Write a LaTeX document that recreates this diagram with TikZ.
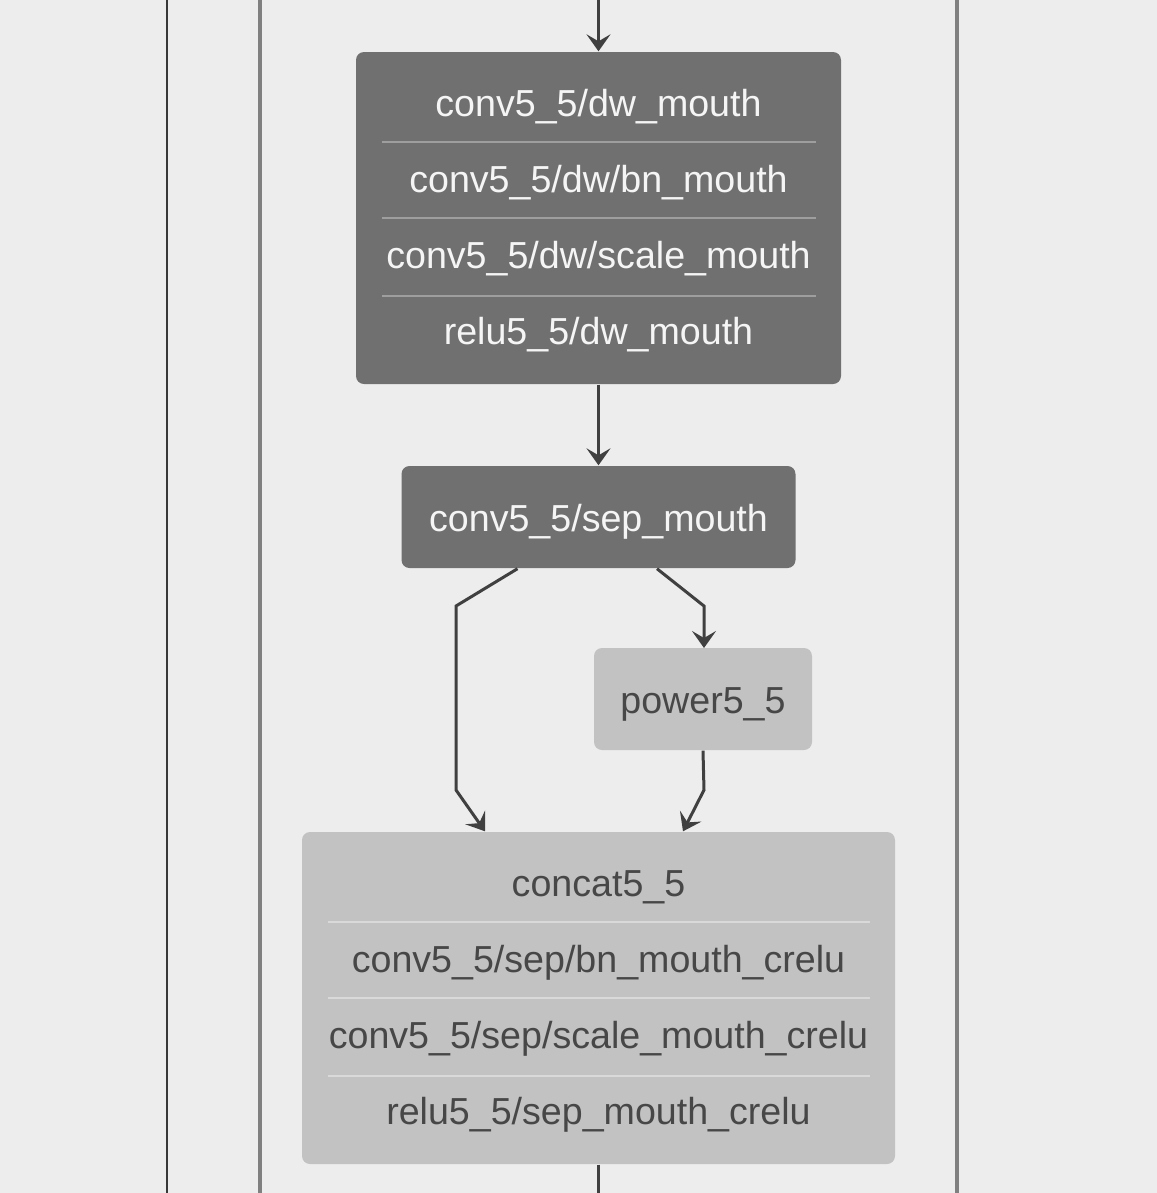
\documentclass[tikz,border=0pt]{standalone}
\usepackage{fontspec}
\setmainfont{Liberation Sans}
\usetikzlibrary{arrows.meta}
\definecolor{bgcol}{HTML}{EDEDED}
\definecolor{darkbox}{HTML}{707070}
\definecolor{lightbox}{HTML}{C2C2C2}
\definecolor{edgecol}{HTML}{404040}
\begin{document}
\begin{tikzpicture}[x=0.1mm, y=-0.1mm,
    darkn/.style = {fill=darkbox, rounded corners=0.8mm, inner sep=0pt},
    lightn/.style = {fill=lightbox, rounded corners=0.8mm, inner sep=0pt},
    wtext/.style = {text=white!96!black, font=\fontsize{10.7}{12}\selectfont, inner sep=0pt, anchor=base},
    ktext/.style = {text=black!72, font=\fontsize{10.7}{12}\selectfont, inner sep=0pt, anchor=base},
    edge/.style = {draw=edgecol, line width=0.3mm, -{Stealth[length=1.7mm, width=2.4mm, inset=0.7mm]}}]

    \fill[bgcol] (0,0) rectangle (1157,1193);
    \useasboundingbox (0,0) rectangle (1157,1193);

    % lanes
    \draw[black!78, line width=0.2mm] (167,0) -- (167,1193);
    \draw[black!50, line width=0.4mm] (260,0) -- (260,1193);
    \draw[black!50, line width=0.4mm] (957,0) -- (957,1193);

    %--------------------------------------------

    \node[darkn, minimum width=48.5mm, minimum height=33.2mm] (dw) at (598.5,218) {};
    \node[wtext] (dw1) at (598.5,116) {conv5\_5/dw\_mouth};
    \node[wtext] (dw2) at (598.5,192) {conv5\_5/dw/bn\_mouth};
    \node[wtext] (dw3) at (598.5,268) {conv5\_5/dw/scale\_mouth};
    \node[wtext] (dw4) at (598.5,344) {relu5\_5/dw\_mouth};
    \draw[black!38, line width=0.2mm] (382,142) -- (816,142);
    \draw[black!38, line width=0.2mm] (382,218) -- (816,218);
    \draw[black!38, line width=0.2mm] (382,296) -- (816,296);

    \node[darkn, minimum width=39.4mm, minimum height=10.2mm] (sep) at (598.5,517) {};
    \node[wtext] (sep1) at (598.5,531) {conv5\_5/sep\_mouth};

    \node[lightn, minimum width=21.8mm, minimum height=10.2mm] (power) at (703,699) {};
    \node[ktext] (power1) at (703,713) {power5\_5};

    %--------------------------------------------

    \node[lightn, minimum width=59.3mm, minimum height=33.2mm] (concat) at (598.5,998) {};
    \node[ktext] (concat1) at (598.5,896) {concat5\_5};
    \node[ktext] (concat2) at (598.5,972) {conv5\_5/sep/bn\_mouth\_crelu};
    \node[ktext] (concat3) at (598.5,1048) {conv5\_5/sep/scale\_mouth\_crelu};
    \node[ktext] (concat4) at (598.5,1124) {relu5\_5/sep\_mouth\_crelu};
    \draw[black!15, line width=0.2mm] (328,922) -- (870,922);
    \draw[black!15, line width=0.2mm] (328,998) -- (870,998);
    \draw[black!15, line width=0.2mm] (328,1076) -- (870,1076);

    %--------------------------------------------

    \coordinate (top) at (598.5,0);
    \coordinate (bottom) at (598.5,1193);
    \draw[edge] (top) -- (dw.north);
    \draw[edge] (dw.south) -- (sep.north);
    \draw[edge] ([xshift=-8.1mm]sep.south) -- (456,606) -- (456,790) -- ([xshift=-11.35mm]concat.north);
    \draw[edge] ([xshift=5.85mm]sep.south) -- (704,606) -- (704,648);
    \draw[edge] (power.south) -- (704,790) -- ([xshift=8.45mm]concat.north);
    \draw[draw=edgecol, line width=0.3mm] (concat.south) -- (bottom);

\end{tikzpicture}
\end{document}
